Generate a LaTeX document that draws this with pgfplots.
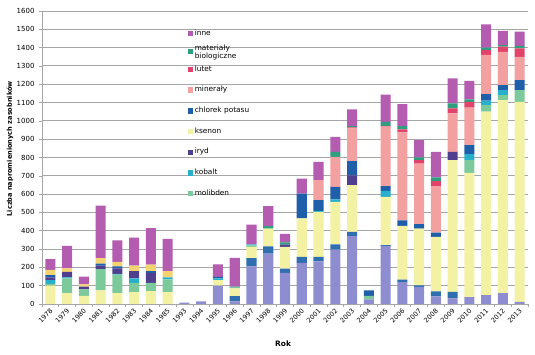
\documentclass[border=0pt]{standalone}
\usepackage{pgfplots}
\usepackage{pgfplotstable}
\pgfplotsset{compat=1.18}
\usepackage{fontspec}
\setmainfont{DejaVu Sans}
\definecolor{cA}{HTML}{8D8DCF}
\definecolor{cB}{HTML}{2F6EAF}
\definecolor{cC}{HTML}{F3F1A3}
\definecolor{cD}{HTML}{7CCA9B}
\definecolor{cE}{HTML}{27AFCB}
\definecolor{cF}{HTML}{4F3F8E}
\definecolor{cG}{HTML}{1F5EA8}
\definecolor{cH}{HTML}{F2D36F}
\definecolor{cI}{HTML}{F3A0A0}
\definecolor{cJ}{HTML}{E2436A}
\definecolor{cK}{HTML}{2E9E7E}
\definecolor{cL}{HTML}{B35CB0}
\definecolor{gridgray}{HTML}{A6A6A6}

\pgfplotstableread{
x A B C D E F G H I J K L
0 0 0 100 10 20 15 12 30 0 0 0 58
1 0 0 60 80 5 30 0 20 0 0 0 123
2 0 0 45 35 0 15 0 12 0 0 0 43
3 0 0 75 115 0 20 10 30 0 0 0 287
4 0 0 60 100 5 30 10 25 0 0 0 118
5 0 0 65 50 25 40 0 30 0 0 0 152
6 0 0 70 45 0 55 10 35 0 0 0 200
7 0 0 65 70 10 0 0 35 0 0 0 175
8 8 0 0 0 0 0 0 0 0 0 0 0
9 15 0 0 0 0 0 0 0 0 0 0 0
10 100 0 30 0 10 0 8 0 0 0 0 69
11 15 28 42 5 0 0 0 0 0 0 5 157
12 206 44 62 8 6 0 0 0 0 0 0 108
13 275 40 97 0 0 0 0 0 0 0 13 109
14 170 23 119 0 0 12 0 0 0 0 12 47
15 224 33 210 0 0 0 136 0 0 0 0 82
16 233 24 246 0 5 0 59 0 109 0 0 100
17 297 28 233 0 13 0 69 0 164 0 27 82
18 370 24 255 0 0 54 77 0 179 6 6 92
19 25 0 0 20 0 0 30 0 0 0 0 0
20 317 5 263 0 33 0 25 0 325 5 22 149
21 120 13 293 0 0 0 31 0 480 16 18 121
22 93 9 310 0 0 0 24 0 331 18 15 95
23 42 27 297 0 0 0 24 0 253 28 20 140
24 31 35 719 0 0 46 0 0 210 27 27 137
25 38 0 678 69 33 0 49 0 206 31 13 102
26 48 0 1002 36 24 0 36 0 214 27 13 127
27 60 0 1053 28 27 0 27 0 182 28 9 77
28 12 0 1092 64 0 0 55 0 127 46 13 78
}\datatable

\begin{document}
\begin{tikzpicture}
\path[use as bounding box] (-42bp,-51bp) rectangle (493bp,304bp);
\begin{axis}[
  at={(0,0)}, anchor=south west,
  scale only axis, width=486bp, height=293bp,
  ybar stacked, bar width=0.6,
  xmin=-0.5, xmax=28.5, ymin=0, ymax=1600,
  ytick={0,100,...,1600},
  xtick={0,...,28},
  xticklabels={1978,1979,1980,1981,1982,1983,1984,1985,1993,1994,1995,1996,1997,1998,1999,2000,2001,2002,2003,2004,2005,2006,2007,2008,2009,2010,2011,2012,2013},
  minor xtick={-0.5,0.5,...,28.5},
  axis x line*=bottom, axis y line*=left,
  axis line style={color=gridgray, line width=0.8pt},
  ymajorgrids, grid style={color=gridgray, line width=1pt},
  major x tick style={draw=none},
  minor x tick style={color=gridgray, line width=0.6pt},
  major y tick style={color=gridgray, line width=0.6pt},
  tick align=outside, major tick length=3bp, minor tick length=3bp,
  /pgf/number format/assume math mode=true,
  /pgf/number format/1000 sep={},
  yticklabel style={font=\fontsize{7}{8}\selectfont, xshift=-1bp},
  xticklabel style={font=\fontsize{6.6}{8}\selectfont, rotate=45, anchor=east, xshift=2bp, yshift=-3bp},
  xlabel={\bfseries Rok},
  ylabel={\bfseries Liczba napromienionych zasobników},
  every axis x label/.style={at={(axis description cs:0.496,-0.137)}, anchor=center, font=\fontsize{7.5}{9}\selectfont},
  every axis y label/.style={at={(axis description cs:-0.066,0.53)}, rotate=90, anchor=center, font=\fontsize{6.6}{8}\selectfont},
  legend style={at={(0.30,0.943)}, anchor=north west, draw=none, fill=none,
    font=\fontsize{7.4}{8.5}\selectfont, row sep=9.6bp, inner sep=0pt,
    /tikz/every even column/.append style={column sep=2bp}},
  legend cell align=left,
]
\addplot[fill=cA, draw=none, forget plot] table[x=x, y=A] {\datatable};
\addplot[fill=cB, draw=none, forget plot] table[x=x, y=B] {\datatable};
\addplot[fill=cC, draw=none, forget plot] table[x=x, y=C] {\datatable};
\addplot[fill=cD, draw=none, forget plot] table[x=x, y=D] {\datatable};
\addplot[fill=cE, draw=none, forget plot] table[x=x, y=E] {\datatable};
\addplot[fill=cF, draw=none, forget plot] table[x=x, y=F] {\datatable};
\addplot[fill=cG, draw=none, forget plot] table[x=x, y=G] {\datatable};
\addplot[fill=cH, draw=none, forget plot] table[x=x, y=H] {\datatable};
\addplot[fill=cI, draw=none, forget plot] table[x=x, y=I] {\datatable};
\addplot[fill=cJ, draw=none, forget plot] table[x=x, y=J] {\datatable};
\addplot[fill=cK, draw=none, forget plot] table[x=x, y=K] {\datatable};
\addplot[fill=cL, draw=none, forget plot] table[x=x, y=L] {\datatable};
\addlegendimage{legend image code/.code={\fill[cL] (0bp,-2.2bp) rectangle (4.4bp,2.2bp);}}\addlegendentry{inne}
\addlegendimage{legend image code/.code={\fill[cK] (0bp,-2.2bp) rectangle (4.4bp,2.2bp);}}\addlegendentry{\smash{\begin{tabular}[t]{@{}l@{}}materiały\\[-1pt]biologiczne\end{tabular}}}
\addlegendimage{legend image code/.code={\fill[cJ] (0bp,-2.2bp) rectangle (4.4bp,2.2bp);}}\addlegendentry{lutet}
\addlegendimage{legend image code/.code={\fill[cI] (0bp,-2.2bp) rectangle (4.4bp,2.2bp);}}\addlegendentry{minerały}
\addlegendimage{legend image code/.code={\fill[cG] (0bp,-2.2bp) rectangle (4.4bp,2.2bp);}}\addlegendentry{chlorek potasu}
\addlegendimage{legend image code/.code={\fill[cC] (0bp,-2.2bp) rectangle (4.4bp,2.2bp);}}\addlegendentry{ksenon}
\addlegendimage{legend image code/.code={\fill[cF] (0bp,-2.2bp) rectangle (4.4bp,2.2bp);}}\addlegendentry{iryd}
\addlegendimage{legend image code/.code={\fill[cE] (0bp,-2.2bp) rectangle (4.4bp,2.2bp);}}\addlegendentry{kobalt}
\addlegendimage{legend image code/.code={\fill[cD] (0bp,-2.2bp) rectangle (4.4bp,2.2bp);}}\addlegendentry{molibden}
\end{axis}
\end{tikzpicture}
\end{document}
